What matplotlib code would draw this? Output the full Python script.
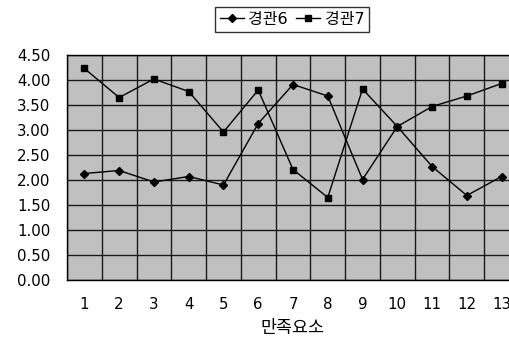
import matplotlib
matplotlib.use("Agg")
import matplotlib.pyplot as plt
import numpy as np

plt.rcParams['font.family'] = ['DejaVu Sans', 'Noto Sans CJK KR']

categories = [str(i) for i in range(1, 14)]
series_names = ["경관6", "경관7"]
gyeonggwan6 = [2.13, 2.19, 1.96, 2.07, 1.90, 3.13, 3.91, 3.68, 2.01, 3.07, 2.27, 1.69, 2.07]
gyeonggwan7 = [4.23, 3.65, 4.02, 3.77, 2.96, 3.80, 2.21, 1.65, 3.82, 3.07, 3.47, 3.68, 3.93]
y_ticks = [0, 0.5, 1.0, 1.5, 2.0, 2.5, 3.0, 3.5, 4.0, 4.5]

W, H = 509, 346
fig = plt.figure(figsize=(W / 100, H / 100), dpi=100)
# plot area runs off the right edge, as in the original
ax = fig.add_axes([67 / W, (H - 280) / H, 452 / W, 225 / H])
ax.set_facecolor('#c0c0c0')

x = np.arange(1, len(categories) + 1)
l1, = ax.plot(x, gyeonggwan6, color='black', lw=1, marker='D', ms=4.5,
              label=series_names[0])
l2, = ax.plot(x, gyeonggwan7, color='black', lw=1, marker='s', ms=5,
              label=series_names[1])

ax.set_xlim(0.5, len(categories) + 0.5)
ax.set_ylim(0, 4.5)
ax.set_xticks(x)
ax.set_xticklabels(categories)
ax.set_xticks(np.arange(0.5, len(categories) + 1), minor=True)
ax.set_yticks(y_ticks)
ax.set_yticklabels([f"{v:.2f}" for v in y_ticks])
ax.tick_params(axis='both', which='both', length=0, labelsize=10.8, colors='black')
ax.tick_params(axis='y', pad=12)
ax.tick_params(axis='x', pad=12)

ax.grid(True, axis='y', which='major', color='#1a1a1a', lw=1)
ax.grid(True, axis='x', which='minor', color='#1a1a1a', lw=1)
ax.set_axisbelow(True)
for s in ax.spines.values():
    s.set_color('black')
    s.set_linewidth(1)

ax.set_xlabel("만족요소", fontsize=12.5, labelpad=5)

leg = fig.legend(handles=[l1, l2], loc='center', bbox_to_anchor=(292 / W, 1 - 19.5 / H),
                 ncol=2, fontsize=11.5, frameon=True, fancybox=False, handlelength=1.5,
                 handletextpad=0.3, columnspacing=0.5, borderpad=0.3, borderaxespad=0)
leg.get_frame().set_edgecolor('black')
leg.get_frame().set_linewidth(1)

fig.savefig("out.png", dpi=100)
